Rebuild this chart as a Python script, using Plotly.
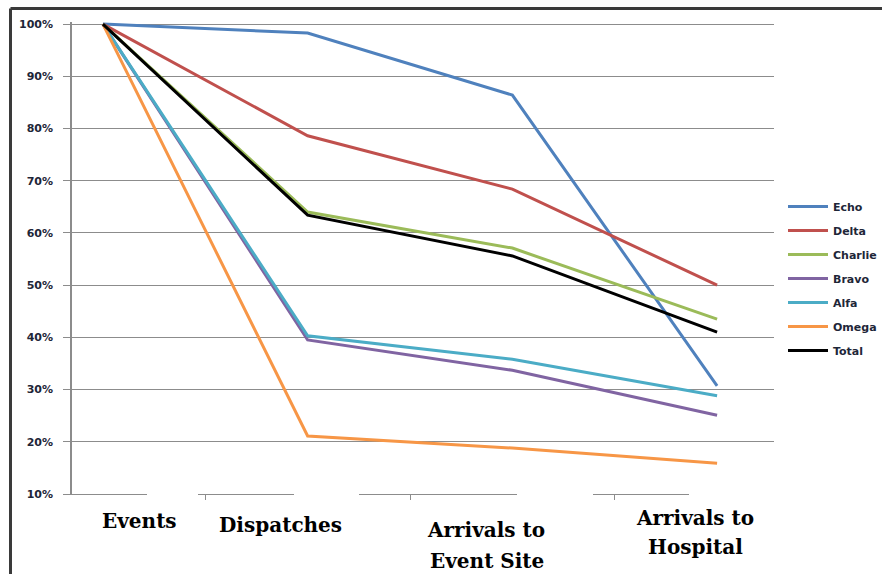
import plotly.graph_objects as go

# ---- data ----
stages = ["Events", "Dispatches", "Arrivals to<br>Event Site", "Arrivals to<br>Hospital"]
series_names = ["Echo", "Delta", "Charlie", "Bravo", "Alfa", "Omega", "Total"]
echo = [100, 98.3, 86.4, 30.7]
delta = [100, 78.6, 68.4, 50.0]
charlie = [100, 64.0, 57.1, 43.5]
bravo = [100, 39.5, 33.7, 25.1]
alfa = [100, 40.3, 35.8, 28.8]
omega = [100, 21.1, 18.8, 15.9]
total = [100, 63.4, 55.6, 41.0]
series_values = [echo, delta, charlie, bravo, alfa, omega, total]
colors = ["#4F81BD", "#C0504D", "#9BBB59", "#8064A2", "#4BACC6", "#F79646", "#000000"]
y_ticks = [10, 20, 30, 40, 50, 60, 70, 80, 90, 100]
y_tick_labels = [f"{v}%" for v in y_ticks]

W, H = 882, 574
ML, MR, MT, MB = 72, 108, 22, 80
PW, PH = W - ML - MR, H - MT - MB


def px_x(px):
    return (px - ML) / PW


def px_y(py):
    return (H - MB - py) / PH


fig = go.Figure()
for name, vals, col in zip(series_names, series_values, colors):
    fig.add_trace(go.Scatter(
        x=list(range(len(stages))), y=vals, name=name, mode="lines",
        line=dict(color=col, width=3), legendgroup=name,
    ))

text_col = "#1E2638"
fig.update_layout(
    width=W, height=H,
    margin=dict(l=ML, r=MR, t=MT, b=MB, autoexpand=False),
    paper_bgcolor="white", plot_bgcolor="white",
    showlegend=True,
    legend=dict(
        x=px_x(783), y=px_y(192), xanchor="left", yanchor="top",
        font=dict(family="DejaVu Sans", size=11, color=text_col, weight="bold"),
        tracegroupgap=5, bgcolor="rgba(0,0,0,0)", itemwidth=40,
    ),
    xaxis=dict(
        range=[-0.151, 3.278], showgrid=False, zeroline=False,
        showline=True, linecolor="#8C8C8C", linewidth=1,
        tickmode="array", tickvals=[0.5, 1.5, 2.5], ticktext=["", "", ""],
        ticks="outside", ticklen=5, tickcolor="#8C8C8C",
    ),
    yaxis=dict(
        range=[10, 100.4], tickmode="array", tickvals=y_ticks, ticktext=y_tick_labels,
        showgrid=True, gridcolor="#8C8C8C", gridwidth=1,
        zeroline=False, showline=True, linecolor="#8C8C8C", linewidth=1.5,
        ticks="outside", ticklen=7, tickcolor="#8C8C8C",
        ticklabelstandoff=8,
        tickfont=dict(family="DejaVu Sans", size=11, color=text_col, weight="bold"),
    ),
)

# category labels (pasted below the axis in the original)
label_pos = [
    [(139.5, 521)],
    [(280.5, 525)],
    [(486, 530), (487, 561)],
    [(695, 518), (695, 547)],
]
for lab, poss in zip(stages, label_pos):
    for line, (lx, ly) in zip(lab.split("<br>"), poss):
        fig.add_annotation(
            x=px_x(lx), y=px_y(ly), xref="paper", yref="paper",
            text=line, showarrow=False, xanchor="center", yanchor="middle",
            font=dict(family="DejaVu Serif", size=20, color="black", weight="bold"),
        )

# white patches where the pasted labels cover the axis line
for x0, x1 in [(147, 198), (294, 359), (517, 593), (689, 776)]:
    fig.add_shape(type="rect", xref="paper", yref="paper",
                  x0=px_x(x0), x1=px_x(x1), y0=px_y(491.5), y1=px_y(497),
                  fillcolor="white", line=dict(width=0), layer="above")

# outer frame (top and left edges)
fig.add_shape(type="line", xref="paper", yref="paper",
              x0=px_x(10.5), x1=px_x(900), y0=px_y(8.5), y1=px_y(8.5),
              line=dict(color="#3A3A3A", width=3))
fig.add_shape(type="line", xref="paper", yref="paper",
              x0=px_x(10.5), x1=px_x(10.5), y0=px_y(8.5), y1=px_y(600),
              line=dict(color="#3A3A3A", width=3))

fig.write_html(
    "out.html",
    config={"displayModeBar": False},
    post_script="document.body.style.margin='0';document.body.style.overflow='hidden';",
)
